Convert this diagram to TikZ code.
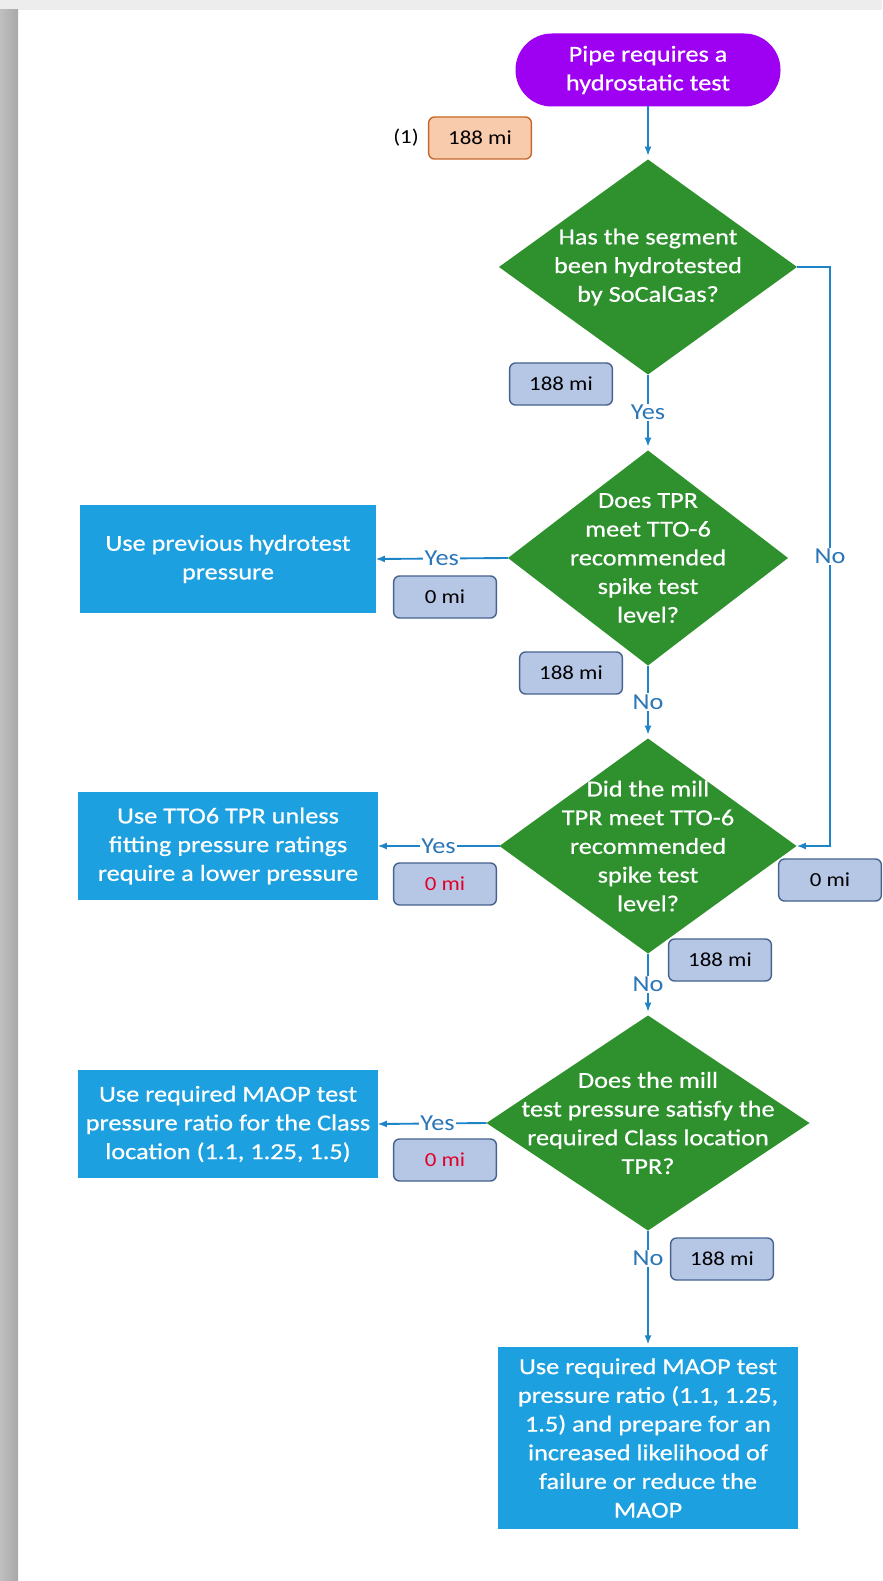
\documentclass[tikz,border=0pt]{standalone}
\usepackage{fontspec}
\setmainfont{Carlito}[FakeStretch=1.15]
\newfontfamily\boxfont{Carlito}[FakeStretch=1.15,FakeBold=0.6]
\usetikzlibrary{arrows.meta,shapes.geometric}

\definecolor{startpurple}{RGB}{158,0,242}
\definecolor{askgreen}{RGB}{46,145,46}
\definecolor{actblue}{RGB}{29,160,224}
\definecolor{linkblue}{RGB}{30,132,200}
\definecolor{lblblue}{RGB}{42,118,182}
\definecolor{tagfill}{RGB}{182,199,230}
\definecolor{tagedge}{RGB}{70,98,142}
\definecolor{orgfill}{RGB}{248,203,173}
\definecolor{orgedge}{RGB}{198,102,40}
\definecolor{zerored}{RGB}{226,0,40}

\begin{document}
\begin{tikzpicture}[x=0.03cm,y=-0.03cm,
  every node/.style={font=\fontsize{19.5}{24.5}\selectfont},
  wtext/.style={text=white,align=center,font=\boxfont\fontsize{19.5}{24.5}\selectfont},
  startbox/.style={wtext,rectangle,rounded corners=1.09cm,fill=startpurple,
    minimum width=7.95cm,minimum height=2.19cm,inner sep=0pt,outer sep=0pt},
  ask/.style={diamond,fill=askgreen,inner sep=0pt,outer sep=0pt,minimum width=#1,minimum height=6.45cm},
  askt/.style={wtext,inner sep=0pt},
  act/.style={wtext,rectangle,fill=actblue,inner sep=0pt,outer sep=0pt,
    minimum width=8.97cm,minimum height=3.24cm},
  tag/.style={rectangle,rounded corners=5pt,draw=tagedge,line width=1.2pt,fill=tagfill,
    minimum width=3.08cm,minimum height=1.26cm,inner sep=0pt,font=\fontsize{17}{20}\selectfont},
  org/.style={tag,fill=orgfill,draw=orgedge},
  arr/.style={draw=linkblue,line width=1.6pt,-{Latex[length=8pt,width=6pt]}},
  lbl/.style={fill=white,text=lblblue,inner sep=1pt}]

\fill[gray!14] (0,0) rectangle (882,1581);
\fill[white] (18,10) rectangle (882,1581);
\shade[left color=gray!50,right color=gray!68] (0,10) rectangle (18,1581);

\node[startbox] (start) at (648,70) {Pipe requires a\\hydrostatic test};
\node (one) at (406,138) {\fontsize{17}{20}\selectfont(1)};
\node[org] (total) at (480,138) {188 mi};

\node[ask=8.94cm] (d1) at (648,267) {};
\node[askt] (d1t) at (d1) {Has the segment\\been hydrotested\\by SoCalGas?};
\node[tag] (m1) at (561,384) {188 mi};

\node[ask=8.4cm] (d2) at (648,558) {};
\node[askt] (d2t) at (d2) {Does TPR\\meet TTO-6\\recommended\\spike test\\level?};
\node[tag] (m2) at (571,673) {188 mi};

\node[ask=8.91cm] (d3) at (648,846) {};
\node[askt] (d3t) at (d3) {Did the mill\\TPR meet TTO-6\\recommended\\spike test\\level?};
\node[tag] (m3) at (720,960) {188 mi};
\node[tag] (m3r) at (830,880) {0 mi};

\node[ask=9.69cm] (d4) at (648,1123) {};
\node[askt] (d4t) at (d4) {Does the mill\\test pressure satisfy the\\required Class location\\TPR?};
\node[tag] (m4) at (722,1259) {188 mi};

\node[act,minimum width=9cm,minimum height=5.46cm] (final) at (648,1438)
  {Use required MAOP test\\pressure ratio (1.1, 1.25,\\1.5) and prepare for an\\increased likelihood of\\failure or reduce the\\MAOP};

\node[act,minimum width=8.85cm] (useprev) at (228,559) {Use previous hydrotest\\pressure};
\node[tag] (z1) at (445,597) {0 mi};
\node[act] (usetto) at (228,846) {Use TTO6 TPR unless\\fitting pressure ratings\\require a lower pressure};
\node[tag,text=zerored] (z2) at (445,884) {0 mi};
\node[act] (useclass) at (228,1124) {Use required MAOP test\\pressure ratio for the Class\\location (1.1, 1.25, 1.5)};
\node[tag,text=zerored] (z3) at (445,1160) {0 mi};

\coordinate (c1) at (830,267);
\coordinate (c2) at (830,846);

\draw[arr,shorten >=3pt] (start) -- (d1);
\draw[arr,shorten >=3pt] (d1) -- node[lbl]{Yes} (d2);
\draw[arr] (d1.east) -- (c1) -- node[lbl]{No} (c2) -- (d3.east);
\draw[arr,shorten >=3pt] (d2) -- node[lbl]{No} (d3);
\draw[arr,shorten >=3pt] (d3) -- node[lbl]{No} (d4);
\draw[arr,shorten >=2pt] (d4) -- node[lbl,pos=0.24]{No} (final);
\draw[arr] (d2.west) -- node[lbl]{Yes} (useprev.east);
\draw[arr] (d3.west) -- node[lbl]{Yes} (usetto.east);
\draw[arr] (d4.west) -- node[lbl,pos=0.45]{Yes} (useclass.east);
\end{tikzpicture}
\end{document}
